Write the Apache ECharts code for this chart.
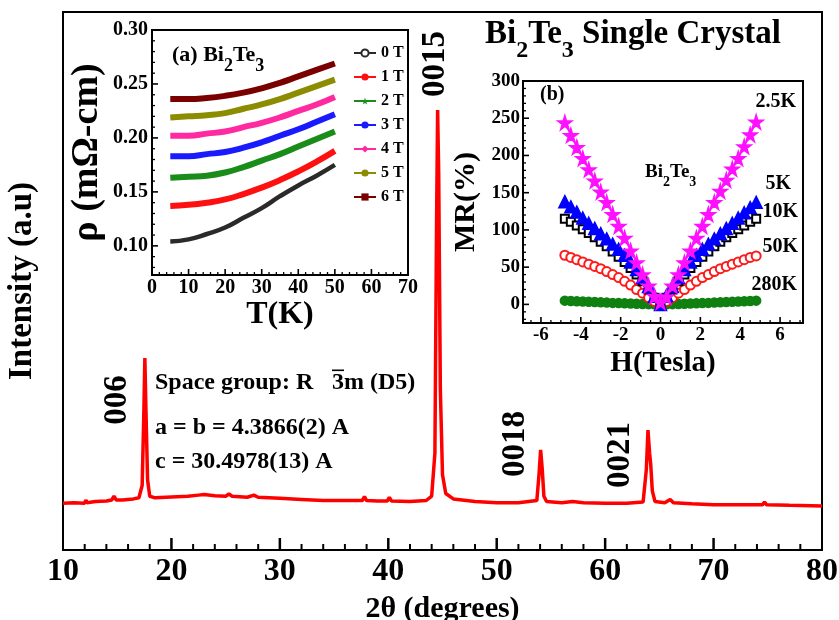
<!DOCTYPE html>
<html><head><meta charset="utf-8">
<script src="https://cdn.jsdelivr.net/npm/echarts@6/dist/echarts.min.js"></script>
<style>html,body{margin:0;padding:0;background:#fff}#c{width:839px;height:620px}</style>
</head><body><div id="c"></div>
<script>
const FONT = '"Liberation Serif", "Times New Roman", serif';

// ---------- main XRD pattern ----------
const xrdTheta = [10.0, 11.0, 12.0, 12.1, 12.2, 13.0, 14.0, 14.5, 14.7, 14.9, 15.5, 16.5, 17.0, 17.3, 17.45, 17.55, 17.65, 17.8, 18.0, 18.5, 19.5, 20.5, 21.5, 22.5, 23.0, 24.0, 25.0, 25.3, 25.6, 27.0, 27.6, 28.0, 30.0, 32.0, 34.0, 36.0, 37.6, 37.8, 38.0, 39.0, 39.9, 40.1, 40.3, 42.0, 43.5, 44.0, 44.3, 44.45, 44.55, 44.65, 44.8, 45.0, 45.3, 46.0, 48.0, 50.0, 52.0, 53.7, 53.9, 54.05, 54.2, 54.35, 54.6, 56.0, 57.0, 58.0, 60.0, 62.0, 63.5, 63.8, 63.95, 64.1, 64.2, 64.35, 64.6, 65.5, 66.0, 66.3, 68.0, 70.0, 72.0, 74.5, 74.7, 74.9, 77.0, 80.0];
const xrdIntensity = [87, 88, 87, 93, 88, 90, 91, 93, 100, 93, 93, 95, 97, 120, 250, 357, 260, 130, 100, 97, 98, 99, 100, 102, 103, 101, 100, 104, 100, 98, 102, 98, 96, 94, 92, 92, 92, 99, 92, 91, 91, 98, 91, 90, 92, 100, 180, 600, 818, 700, 300, 140, 105, 95, 90, 88, 88, 92, 140, 186, 150, 100, 90, 88, 90, 88, 87, 87, 89, 150, 223, 180, 160, 110, 90, 88, 94, 88, 86, 84, 84, 84, 89, 84, 83, 82];
const xrdXTicks = [10, 20, 30, 40, 50, 60, 70, 80];
const peakLabels = ['006', '0015', '0018', '0021'];

// ---------- inset (a): resistivity vs T ----------
const rhoTemps = [5, 10, 15, 20, 25, 30, 35, 40, 45, 50];
const rhoNames = ['0 T', '1 T', '2 T', '3 T', '4 T', '5 T', '6 T'];
const rho0T = [0.104, 0.106, 0.111, 0.117, 0.126, 0.135, 0.146, 0.156, 0.165, 0.175];
const rho1T = [0.137, 0.138, 0.140, 0.143, 0.148, 0.154, 0.161, 0.169, 0.178, 0.188];
const rho2T = [0.163, 0.164, 0.165, 0.168, 0.173, 0.179, 0.185, 0.192, 0.199, 0.206];
const rho3T = [0.183, 0.183, 0.185, 0.187, 0.191, 0.196, 0.202, 0.208, 0.215, 0.222];
const rho4T = [0.202, 0.202, 0.204, 0.206, 0.210, 0.214, 0.219, 0.225, 0.231, 0.238];
const rho5T = [0.219, 0.220, 0.221, 0.223, 0.227, 0.231, 0.236, 0.242, 0.248, 0.254];
const rho6T = [0.236, 0.236, 0.237, 0.239, 0.242, 0.246, 0.251, 0.257, 0.263, 0.269];
const rhoYTicks = [0.10, 0.15, 0.20, 0.25, 0.30];
const rhoXTicks = [0, 10, 20, 30, 40, 50, 60, 70];

// ---------- inset (b): MR vs H ----------
const mrField = [-4.8, -4.5, -4.2, -3.9, -3.6, -3.3, -3.0, -2.7, -2.4, -2.1, -1.8, -1.5, -1.2, -0.9, -0.6, -0.3, 0, 0.3, 0.6, 0.9, 1.2, 1.5, 1.8, 2.1, 2.4, 2.7, 3.0, 3.3, 3.6, 3.9, 4.2, 4.5, 4.8];
const mrNames = ['2.5K', '5K', '10K', '50K', '280K'];
const mr2p5K = [244, 227, 211, 196, 181, 166, 151, 137, 121, 105, 89, 72, 56, 40, 25, 11, 3, 10, 25, 40, 56, 72, 89, 105, 121, 137, 152, 167, 182, 196, 212, 228, 245];
const mr5K = [138, 131, 124, 116, 109, 102, 95, 88, 81, 74, 66, 57, 47, 36, 24, 11, 0, 12, 24, 36, 47, 57, 66, 74, 81, 88, 95, 102, 109, 116, 123, 130, 137];
const mr10K = [115, 111, 106, 101, 96, 90, 84, 78, 71, 64, 57, 49, 40, 31, 20, 9, 0, 9, 20, 31, 40, 49, 57, 64, 71, 78, 84, 90, 96, 101, 106, 111, 115];
const mr50K = [66, 63, 60, 57, 54, 51, 48, 44, 40, 36, 31, 26, 20, 15, 9, 4, 0, 4, 9, 15, 20, 26, 31, 36, 40, 44, 48, 51, 54, 57, 60, 63, 65];
const mr280K = [5.0, 4.6, 4.2, 3.8, 3.4, 3.1, 2.7, 2.4, 2.0, 1.7, 1.4, 1.1, 0.8, 0.5, 0.3, 0.1, 0, 0.1, 0.3, 0.5, 0.8, 1.1, 1.4, 1.7, 2.0, 2.4, 2.7, 3.1, 3.4, 3.8, 4.2, 4.6, 5.0];
const mrYTicks = [0, 50, 100, 150, 200, 250, 300];
const mrXTicks = [-6, -4, -2, 0, 2, 4, 6];

// minor tick positions (between labelled ticks)
function minorList(lo, hi, step, majors) {
  const out = [];
  for (let k = Math.round(lo / step); k * step <= hi + 1e-9; k++) {
    const v = +(k * step).toFixed(6);
    if (v >= lo - 1e-9 && !majors.some(m => Math.abs(m - v) < 1e-9)) out.push(v);
  }
  return out;
}
const xrdXMinor = minorList(10, 80, 2, xrdXTicks);
const rhoXMinor = minorList(0, 70, 2, rhoXTicks);
const rhoYMinor = minorList(0.075, 0.30, 0.01, rhoYTicks);
const mrYMinor = minorList(-25, 300, 10, mrYTicks);
const mrXMinor = minorList(-6.9, 7.15, 0.5, mrXTicks);

// ---------- build ----------
const STAR = 'path://M50,0 L61,35 L98,35 L68,57 L79,91 L50,70 L21,91 L32,57 L2,35 L39,35 Z';
const zip = (a, b) => a.map((v, i) => [v, b[i]]);
const boldTxt = (size) => ({ fontSize: size, fontWeight: 'bold', fontFamily: FONT, color: '#000' });

const rhoSeriesData = [rho0T, rho1T, rho2T, rho3T, rho4T, rho5T, rho6T];
const rhoColors = ['#2a2a2a', '#ff1010', '#1a8c1a', '#1a1aff', '#ff2aa0', '#8c8c00', '#7a0000'];
const rhoSymbols = ['emptyCircle', 'circle', STAR, 'circle', 'diamond', 'circle', 'rect'];
const mrSeriesData = [mr2p5K, mr5K, mr10K, mr50K, mr280K];
const mrColors = ['#ff10ff', '#0000ff', '#000000', '#ff1a1a', '#108010'];
const mrSymbols = [STAR, 'triangle', 'emptyRect', 'emptyCircle', 'circle'];
const mrSizes = [14, 12, 8, 9, 9];

const series = [];
series.push({ type: 'line', xAxisIndex: 0, yAxisIndex: 0, data: zip(xrdTheta, xrdIntensity),
  showSymbol: false, symbol: 'none', lineStyle: { color: '#ff0000', width: 3.5 }, z: 3, silent: true });
rhoSeriesData.forEach((d, i) => {
  series.push({ name: rhoNames[i], type: 'line', xAxisIndex: 1, yAxisIndex: 1, data: zip(rhoTemps, d),
    smooth: true, showSymbol: false, symbol: rhoSymbols[i], symbolSize: 8, itemStyle: { color: rhoColors[i] },
    lineStyle: { color: rhoColors[i], width: i === 0 ? 4.5 : 6 }, z: 4 });
});
mrSeriesData.forEach((d, i) => {
  series.push({ name: 'mr' + mrNames[i], type: 'line', xAxisIndex: 2, yAxisIndex: 2, data: zip(mrField, d),
    symbol: mrSymbols[i], symbolSize: mrSizes[i], showSymbol: true,
    itemStyle: { color: mrColors[i], borderColor: mrColors[i], borderWidth: 1.5 },
    lineStyle: { color: mrColors[i], width: 1.5 }, z: 10 - i });
});

const axLine = () => ({ show: true, onZero: false, lineStyle: { color: '#000', width: 2 } });
const noTick = { show: false };
const gridBase = () => ({ show: true, borderColor: '#000', borderWidth: 2, backgroundColor: 'transparent', containLabel: false, outerBoundsMode: 'none' });

const gridLayouts = [
  { left: 63, right: 17, top: 12, bottom: 70 },
  { left: 152, right: 431, top: 30, bottom: 345 },
  { left: 523, right: 36, top: 81, bottom: 297 }
];
const xRanges = [[10, 80], [0, 70], [-6.9, 7.15]];
const yRanges = [[0, 1000], [0.073, 0.30], [-25, 300]];

const option = {
  animation: false, backgroundColor: '#fff',
  grid: gridLayouts.map(g => Object.assign({}, g, gridBase())),
  legend: { data: rhoNames, orient: 'vertical', left: 353, top: 45, itemGap: 8, itemWidth: 22, itemHeight: 9,
    textStyle: boldTxt(16), padding: 0, selectedMode: false },
  xAxis: [
    { gridIndex: 0, type: 'value', min: xRanges[0][0], max: xRanges[0][1], interval: 10, axisLine: axLine(), axisTick: noTick,
      axisLabel: Object.assign(boldTxt(32), { margin: 6 }), splitLine: { show: false },
      name: '2θ (degrees)', nameLocation: 'middle', nameGap: 44, nameTextStyle: boldTxt(30) },
    { gridIndex: 1, type: 'value', min: xRanges[1][0], max: xRanges[1][1], interval: 10, axisLine: axLine(), axisTick: noTick,
      axisLabel: Object.assign(boldTxt(20), { margin: 3 }), splitLine: { show: false },
      name: 'T(K)', nameLocation: 'middle', nameGap: 20, nameTextStyle: boldTxt(32) },
    { gridIndex: 2, type: 'value', min: xRanges[2][0], max: xRanges[2][1], axisLine: axLine(), axisTick: noTick,
      axisLabel: Object.assign(boldTxt(19), { margin: 3, customValues: mrXTicks }), splitLine: { show: false },
      name: 'H(Tesla)', nameLocation: 'middle', nameGap: 26, nameTextStyle: boldTxt(29) }
  ],
  yAxis: [
    { gridIndex: 0, type: 'value', min: yRanges[0][0], max: yRanges[0][1], axisLine: axLine(),
      axisTick: noTick, axisLabel: { show: false }, splitLine: { show: false },
      name: 'Intensity (a.u)', nameLocation: 'middle', nameGap: 24, nameTextStyle: boldTxt(33) },
    { gridIndex: 1, type: 'value', min: yRanges[1][0], max: yRanges[1][1], axisLine: axLine(), axisTick: noTick,
      axisLabel: Object.assign(boldTxt(20), { margin: 4, customValues: rhoYTicks, formatter: v => v.toFixed(2) }),
      splitLine: { show: false }, name: 'ρ (mΩ-cm)', nameLocation: 'middle', nameGap: 46, nameTextStyle: boldTxt(38) },
    { gridIndex: 2, type: 'value', min: yRanges[2][0], max: yRanges[2][1], axisLine: axLine(), axisTick: noTick,
      axisLabel: Object.assign(boldTxt(19), { margin: 3, customValues: mrYTicks }), splitLine: { show: false },
      name: 'MR(%)', nameLocation: 'middle', nameGap: 42, nameTextStyle: boldTxt(30) }
  ],
  series: series
};

function subText(x, y, parts, F, f) {
  const t = parts.map(p => (p[1] ? '{s|' : '{a|') + p[0] + '}').join('');
  return { type: 'text', x: x, y: y, z: 100,
    style: { text: t, align: 'left', verticalAlign: 'top',
      rich: {
        a: { fontSize: F, lineHeight: F, fontWeight: 'bold', fontFamily: FONT, fill: '#000', verticalAlign: 'top' },
        s: { fontSize: f, lineHeight: f, fontWeight: 'bold', fontFamily: FONT, fill: '#000', verticalAlign: 'top', padding: [Math.round(F - f / 2), 0, 0, 0] }
      } } };
}
function txt(x, y, s, size, opts) {
  opts = opts || {};
  return { type: 'text', x: x, y: y, rotation: opts.rot || 0, z: 100,
    style: { text: s, fontSize: size, fontWeight: 'bold', fontFamily: FONT, fill: '#000',
      align: opts.align || 'left', verticalAlign: 'middle' } };
}
const graphics = [
  subText(485, 18, [['Bi', 0], ['2', 1], ['Te', 0], ['3', 1], [' Single Crystal', 0]], 33, 24),
  subText(172, 44, [['(a) Bi', 0], ['2', 1], ['Te', 0], ['3', 1]], 22, 18),
  subText(645, 163, [['Bi', 0], ['2', 1], ['Te', 0], ['3', 1]], 19, 14),
  txt(540, 95, '(b)', 20),
  txt(796, 102, '2.5K', 20, { align: 'right' }),
  txt(791, 184, '5K', 20, { align: 'right' }),
  txt(798, 212, '10K', 20, { align: 'right' }),
  txt(798, 247, '50K', 20, { align: 'right' }),
  txt(797, 285, '280K', 20, { align: 'right' }),
  txt(117, 400, peakLabels[0], 33, { align: 'center', rot: Math.PI / 2 }),
  txt(435, 64, peakLabels[1], 33, { align: 'center', rot: Math.PI / 2 }),
  txt(515, 444, peakLabels[2], 33, { align: 'center', rot: Math.PI / 2 }),
  txt(620, 455, peakLabels[3], 33, { align: 'center', rot: Math.PI / 2 }),
  txt(155, 383, 'Space group: R', 24),
  txt(332, 383, '3m (D5)', 24),
  { type: 'rect', z: 100, shape: { x: 332, y: 369.5, width: 12, height: 1.6 }, style: { fill: '#000' } },
  txt(155, 428, 'a = b = 4.3866(2) A', 24),
  txt(155, 462, 'c = 30.4978(13) A', 24)
];

const chart = echarts.init(document.getElementById('c'), null, { renderer: 'canvas' });
chart.setOption(option);

// pixel of a data point in grid g, through the library; falls back to the grid's linear layout
const W = 839, H = 620;
function toPx(g, x, y) {
  let p = null;
  try { p = chart.convertToPixel({ gridIndex: g }, [x, y]); } catch (e) { p = null; }
  if (!p || !isFinite(p[0]) || !isFinite(p[1])) {
    const L = gridLayouts[g];
    const x0 = L.left, x1 = W - L.right, y0 = H - L.bottom, y1 = L.top;
    const xr = xRanges[g], yr = yRanges[g];
    p = [x0 + (x - xr[0]) / (xr[1] - xr[0]) * (x1 - x0), y0 + (y - yr[0]) / (yr[1] - yr[0]) * (y1 - y0)];
  }
  return p;
}
// axis ticks (inward-pointing), drawn as thin filled bars
const tickEls = [];
function xTicks(g, values, len, w) {
  values.forEach(v => {
    const p = toPx(g, v, yRanges[g][0]);
    tickEls.push({ type: 'rect', z: 60, silent: true, shape: { x: p[0] - w / 2, y: p[1] - len, width: w, height: len }, style: { fill: '#000' } });
  });
}
function yTicks(g, values, len, w) {
  values.forEach(v => {
    const p = toPx(g, xRanges[g][0], v);
    tickEls.push({ type: 'rect', z: 60, silent: true, shape: { x: p[0], y: p[1] - w / 2, width: len, height: w }, style: { fill: '#000' } });
  });
}
xTicks(0, xrdXTicks.slice(1, -1), 12, 2.5);
xTicks(0, xrdXMinor, 6, 2);
xTicks(1, rhoXTicks.slice(1, -1), 6, 1.6);
xTicks(1, rhoXMinor, 3, 1.3);
yTicks(1, rhoYTicks.slice(0, -1), 6, 1.6);
yTicks(1, rhoYMinor, 3, 1.3);
xTicks(2, mrXTicks, 6, 1.6);
xTicks(2, mrXMinor, 3, 1.3);
yTicks(2, mrYTicks.slice(0, -1), 6, 1.6);
yTicks(2, mrYMinor, 3, 1.3);

chart.setOption({ graphic: { elements: graphics.concat(tickEls) } });
</script>
</body></html>
